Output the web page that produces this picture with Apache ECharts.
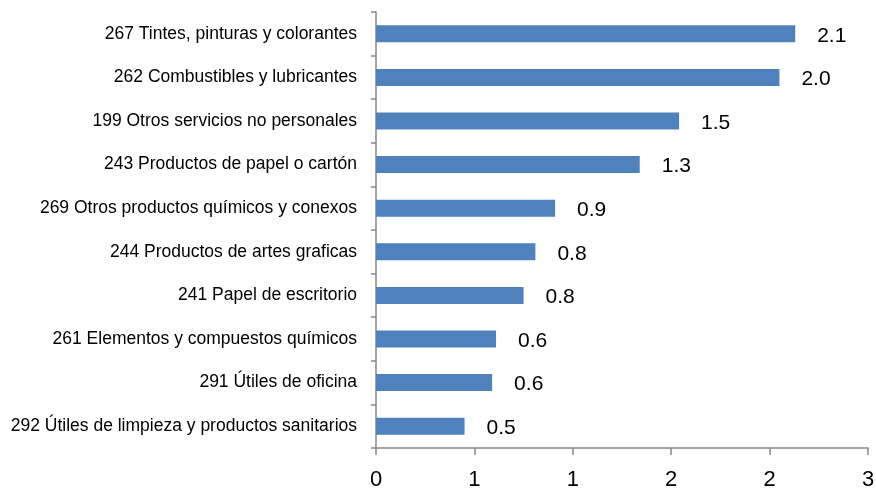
<!DOCTYPE html>
<html>
<head>
<meta charset="utf-8">
<script src="https://cdn.jsdelivr.net/npm/echarts@6/dist/echarts.min.js"></script>
<style>
html,body{margin:0;padding:0;background:#fff;}
#chart{width:876px;height:491px;}
</style>
</head>
<body>
<div id="chart"></div>
<script>
var categories = [
    '267 Tintes, pinturas y colorantes',
    '262 Combustibles y lubricantes',
    '199 Otros servicios no personales',
    '243 Productos de papel o cartón',
    '269 Otros productos químicos y conexos',
    '244 Productos de artes graficas',
    '241 Papel de escritorio',
    '261 Elementos y compuestos químicos',
    '291 Útiles de oficina',
    '292 Útiles de limpieza y productos sanitarios'
];
var values = [2.13, 2.05, 1.54, 1.34, 0.91, 0.81, 0.75, 0.61, 0.59, 0.45];
var xTicks = [0, 0.5, 1, 1.5, 2, 2.5];

var fontMain = '"Liberation Sans", Arial, sans-serif';
var chart = echarts.init(document.getElementById('chart'));

var option = {
    animation: false,
    grid: {
        left: 376,
        right: 8,
        top: 12,
        bottom: 43,
        containLabel: false,
        outerBoundsMode: 'none'
    },
    xAxis: {
        type: 'value',
        min: xTicks[0],
        max: xTicks[xTicks.length - 1],
        interval: 0.5,
        splitLine: { show: false },
        axisLine: { show: true, lineStyle: { color: '#888888', width: 1.5 } },
        axisTick: { show: true, length: 7, lineStyle: { color: '#888888', width: 1.5 } },
        axisLabel: {
            color: '#000',
            fontSize: 22,
            fontFamily: fontMain,
            margin: 21,
            formatter: function (v) { return Math.round(v).toString(); }
        }
    },
    yAxis: {
        type: 'category',
        inverse: true,
        data: categories,
        axisLine: { show: true, lineStyle: { color: '#888888', width: 1.5 } },
        axisTick: { show: true, length: 5, inside: false, lineStyle: { color: '#888888', width: 1.5 } },
        axisLabel: {
            color: '#000',
            fontSize: 17.5,
            fontFamily: fontMain,
            margin: 19
        }
    },
    series: [
        {
            type: 'bar',
            data: values,
            barWidth: 17,
            itemStyle: { color: '#4F81BD' },
            label: {
                show: true,
                position: 'right',
                distance: 22,
                offset: [0, 2],
                color: '#000',
                fontSize: 21,
                fontFamily: fontMain,
                formatter: function (p) { return p.value.toFixed(1); }
            }
        }
    ]
};
chart.setOption(option);
</script>
</body>
</html>
